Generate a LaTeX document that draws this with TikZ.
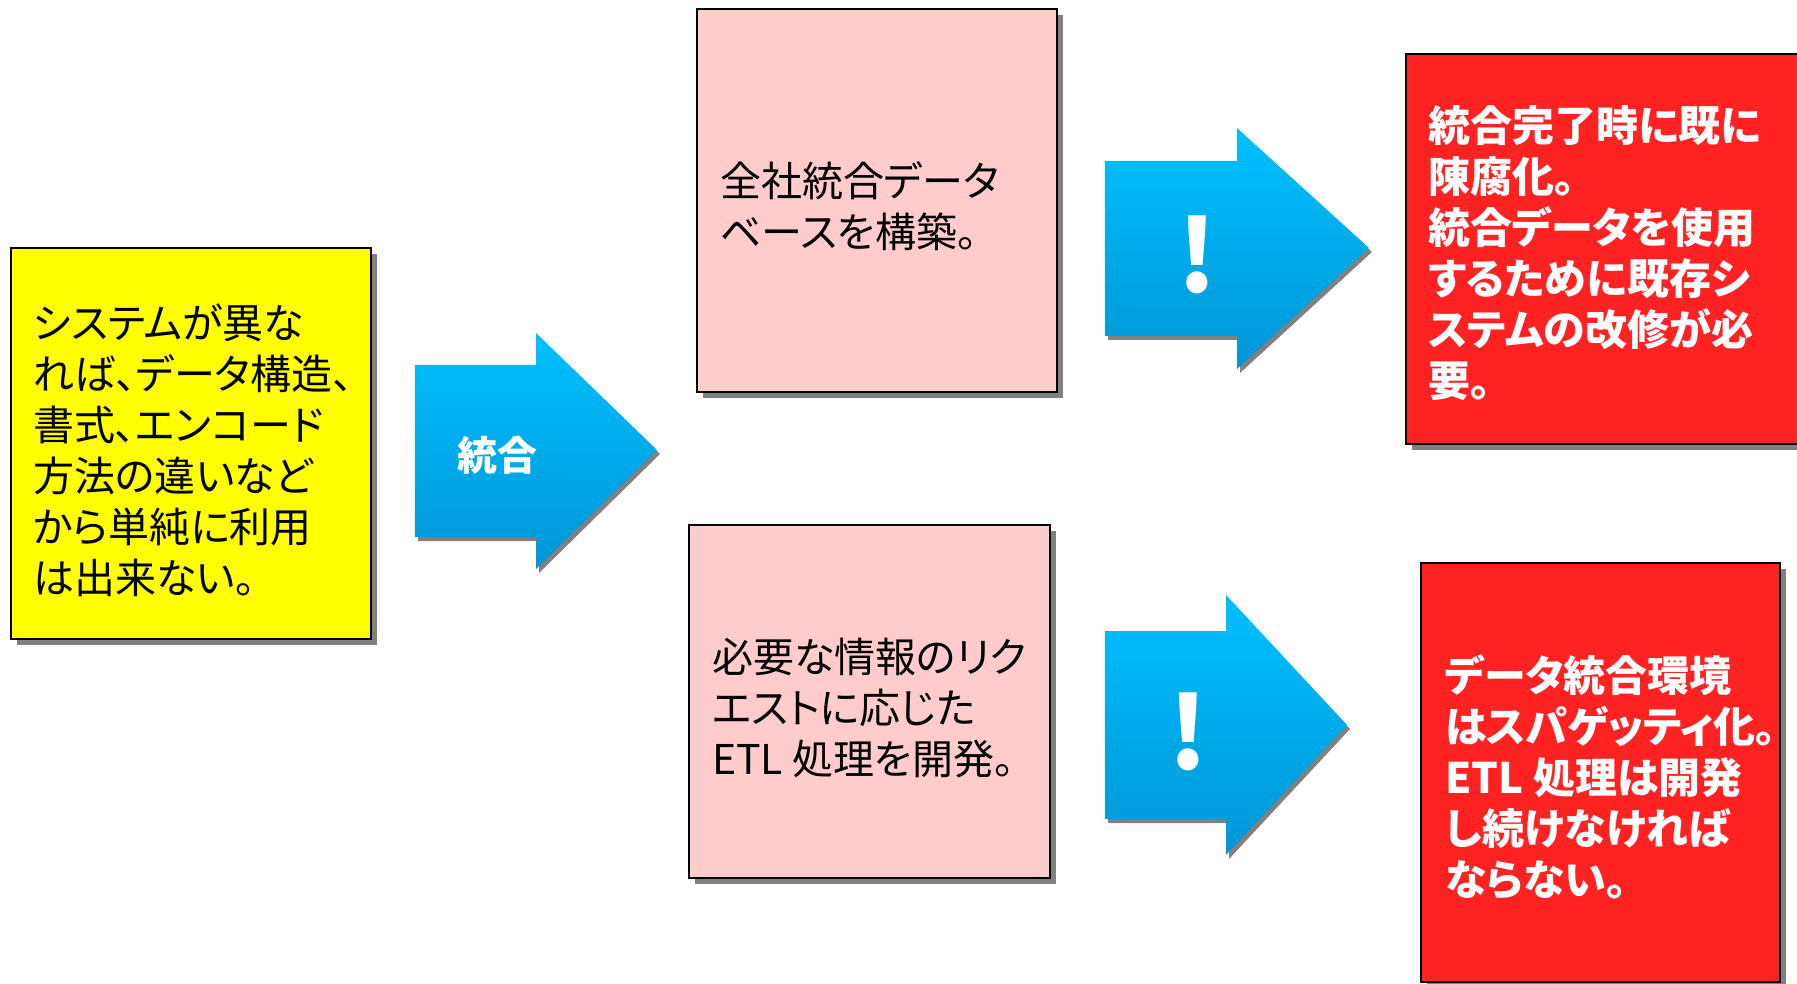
\documentclass[tikz,border=0pt]{standalone}
\usepackage{fontspec}
\newfontfamily\jp[RawFeature=+palt]{Noto Sans CJK JP}
\definecolor{boxyellow}{RGB}{255,255,0}
\definecolor{boxpink}{RGB}{255,204,204}
\definecolor{boxred}{RGB}{255,34,34}
\definecolor{arrtop}{RGB}{0,192,255}
\definecolor{arrbot}{RGB}{0,150,214}
\definecolor{shadowgray}{RGB}{128,128,128}
\begin{document}
\begin{tikzpicture}[x=1pt,y=-1pt,
  boxshadow/.style={fill=shadowgray,draw=none},
  boxframe/.style={draw=black,line width=1.6pt},
  boxtext/.style={anchor=west,inner sep=0pt,align=left,font=\jp\fontsize{41}{51}\selectfont},
  redtext/.style={boxtext,text=white,font=\jp\bfseries\fontsize{42}{51}\selectfont},
  bigarrow/.style={top color=arrtop,bottom color=arrbot,draw=none},
  arrshadow/.style={fill=shadowgray,draw=none},
  arrlabel/.style={inner sep=0pt,text=white,font=\jp\bfseries\fontsize{40}{48}\selectfont},
  bang/.style={inner sep=0pt,text=white,font=\jp\bfseries\fontsize{100}{100}\selectfont}
]
\useasboundingbox[fill=white] (0,0) rectangle (1797,984);

% yellow box
\fill[boxshadow] (17,254) rectangle (377,645);
\draw[boxframe,fill=boxyellow] (11,248) rectangle (371,639);
\node[boxtext] (src) at (33,450) {システムが異な\\れば、データ構造、\\書式、エンコード\\方法の違いなど\\から単純に利用\\は出来ない。};

% arrow 1
\fill[arrshadow,shift={(3,4)}] (415,365) -- (536,365) -- (536,333) -- (657,450) -- (536,569) -- (536,537) -- (415,537) -- cycle;
\path[bigarrow] (415,365) -- (536,365) -- (536,333) -- (657,450) -- (536,569) -- (536,537) -- (415,537) -- cycle;
\node[arrlabel] (integ) at (497,455) {統合};

% pink top
\fill[boxshadow] (703,15) rectangle (1063,398);
\draw[boxframe,fill=boxpink] (697,9) rectangle (1057,392);
\node[boxtext] (plan1) at (720,206) {全社統合データ\\ベースを構築。};

% pink bottom
\fill[boxshadow] (695,531) rectangle (1056,884);
\draw[boxframe,fill=boxpink] (689,525) rectangle (1050,878);
\node[boxtext] (plan2) at (712,708) {必要な情報のリク\\エストに応じた\\ETL 処理を開発。};

% arrow 2
\fill[arrshadow,shift={(3,4)}] (1105,161) -- (1237,161) -- (1237,128) -- (1369,248) -- (1237,369) -- (1237,336) -- (1105,336) -- cycle;
\path[bigarrow] (1105,161) -- (1237,161) -- (1237,128) -- (1369,248) -- (1237,369) -- (1237,336) -- (1105,336) -- cycle;
\node[bang] (warn1) at (1197,255) {!};

% arrow 3
\fill[arrshadow,shift={(3,4)}] (1105,631) -- (1226,631) -- (1226,595) -- (1347,725) -- (1226,855) -- (1226,819) -- (1105,819) -- cycle;
\path[bigarrow] (1105,631) -- (1226,631) -- (1226,595) -- (1347,725) -- (1226,855) -- (1226,819) -- (1105,819) -- cycle;
\node[bang] (warn2) at (1188,732) {!};

% red top
\fill[boxshadow] (1412,60) rectangle (1810,450);
\draw[boxframe,fill=boxred] (1406,54) rectangle (1805,444);
\node[redtext] (res1) at (1428,253) {統合完了時に既に\\陳腐化。\\統合データを使用\\するために既存シ\\ステムの改修が必\\要。};

% red bottom
\fill[boxshadow] (1427,569) rectangle (1786,990);
\draw[boxframe,fill=boxred] (1421,563) rectangle (1780,982);
\node[redtext] (res2) at (1445,777) {データ統合環境\\はスパゲッティ化。\\ETL 処理は開発\\し続けなければ\\ならない。};
\end{tikzpicture}
\end{document}
